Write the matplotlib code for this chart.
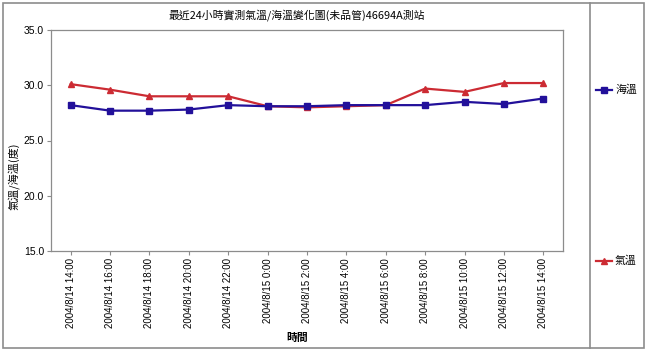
import matplotlib.pyplot as plt
from matplotlib.lines import Line2D
from matplotlib.patches import Rectangle

plt.rcParams['font.family'] = ['Liberation Sans', 'Noto Sans CJK TC', 'DejaVu Sans']

times = ["2004/8/14 14:00", "2004/8/14 16:00", "2004/8/14 18:00", "2004/8/14 20:00",
         "2004/8/14 22:00", "2004/8/15 0:00", "2004/8/15 2:00", "2004/8/15 4:00",
         "2004/8/15 6:00", "2004/8/15 8:00", "2004/8/15 10:00", "2004/8/15 12:00",
         "2004/8/15 14:00"]
sea_temp = [28.2, 27.7, 27.7, 27.8, 28.2, 28.1, 28.1, 28.2, 28.2, 28.2, 28.5, 28.3, 28.8]
air_temp = [30.1, 29.6, 29.0, 29.0, 29.0, 28.1, 28.0, 28.1, 28.2, 29.7, 29.4, 30.2, 30.2]
yticks = [15.0, 20.0, 25.0, 30.0, 35.0]

blue = "#22109a"
red = "#cc2b33"
grey = "#8c8c8c"
cjk = ['Noto Sans CJK TC', 'DejaVu Sans']

W, H = 645, 351
fig = plt.figure(figsize=(W / 100, H / 100), dpi=100)
ax = fig.add_axes([51 / W, 1 - 251 / H, (563 - 51) / W, (251 - 30) / H])

x = list(range(len(times)))
ax.plot(x, air_temp, color=red, lw=1.6, marker="^", ms=4.5, zorder=3)
ax.plot(x, sea_temp, color=blue, lw=1.6, marker="s", ms=4, zorder=4)

ax.set_xlim(-0.5, len(times) - 0.5)
ax.set_ylim(15, 35)
ax.set_xticks(x)
ax.set_xticklabels(times, rotation=90, fontsize=7.0)
ax.set_yticks(yticks)
ax.set_yticklabels([f"{v:.1f}" for v in yticks], fontsize=7.5)
ax.tick_params(direction="out", length=3, width=0.8, color=grey, pad=2)
for s in ax.spines.values():
    s.set_color(grey)
    s.set_linewidth(0.9)

fig.text(297 / W, 1 - 15 / H, "最近24小時實測氣溫/海溫變化圖(未品管)46694A測站",
         ha="center", va="center", fontsize=7.8, family=cjk)
fig.text(14 / W, 1 - 176 / H, "氣溫/海溫(度)", rotation=90,
         ha="center", va="center", fontsize=8, family=cjk)
fig.text(297 / W, 1 - 338 / H, "時間", ha="center", va="center",
         fontsize=7.8, family=cjk, weight="bold")

# outer frame and legend divider
fig.patches.append(Rectangle((3 / W, 1 - 348 / H), 641 / W, 345 / H,
                             transform=fig.transFigure, fill=False,
                             edgecolor=grey, lw=1.2))
fig.lines.append(Line2D([590 / W, 590 / W], [1 - 348 / H, 1 - 3 / H],
                        transform=fig.transFigure, color=grey, lw=1.2))

# legend entries
for label, col, mk, yy in [("海溫", blue, "s", 90), ("氣溫", red, "^", 261)]:
    fig.lines.append(Line2D([596 / W, 612 / W], [1 - yy / H, 1 - yy / H],
                            transform=fig.transFigure, color=col, lw=1.6))
    fig.lines.append(Line2D([604 / W], [1 - yy / H], transform=fig.transFigure,
                            color=col, marker=mk, ms=5))
    fig.text(615 / W, 1 - yy / H, label, ha="left", va="center",
             fontsize=7.8, family=cjk)

fig.savefig("out.png", dpi=100)
